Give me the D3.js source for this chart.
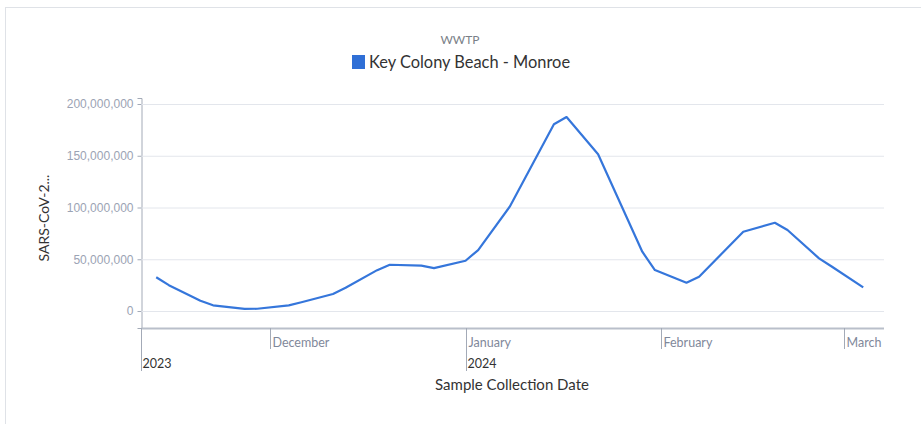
<!DOCTYPE html>
<html>
<head>
<meta charset="utf-8">
<script src="https://cdn.jsdelivr.net/npm/d3@7"></script>
<style>
  body { margin: 0; background: #fff; }
  svg { font-family: Lato, "Noto Sans", sans-serif; }
</style>
</head>
<body>
<svg width="921" height="424"></svg>
<script>
// sample dates and concentrations (copies / L)
var dates = ["2023-11-13", "2023-11-15", "2023-11-20", "2023-11-22", "2023-11-27", "2023-11-29",
  "2023-12-04", "2023-12-06", "2023-12-11", "2023-12-13", "2023-12-18", "2023-12-20",
  "2023-12-25", "2023-12-27", "2024-01-01", "2024-01-03", "2024-01-08", "2024-01-15",
  "2024-01-17", "2024-01-22", "2024-01-29", "2024-01-31", "2024-02-05", "2024-02-07",
  "2024-02-14", "2024-02-19", "2024-02-21", "2024-02-26", "2024-02-28", "2024-03-04"];
var values = [32.6e6, 25.0e6, 10.0e6, 5.5e6, 2.0e6, 2.2e6,
  5.5e6, 8.5e6, 16.5e6, 22.5e6, 39.5e6, 44.7e6,
  43.8e6, 41.5e6, 48.6e6, 58.9e6, 100.8e6, 180.4e6,
  187.4e6, 151.5e6, 57.3e6, 39.6e6, 27.3e6, 33.1e6,
  76.6e6, 85.3e6, 78.3e6, 50.9e6, 43.0e6, 22.9e6];
var seriesName = "Key Colony Beach - Monroe";
var yTicks = [0, 50e6, 100e6, 150e6, 200e6];
var monthTicks = ["2023-12-01", "2024-01-01", "2024-02-01", "2024-03-01"];
var yearTicks = ["2023-11-10", "2024-01-01"];
var yearLabels = ["2023", "2024"];

var parse = d3.timeParse("%Y-%m-%d");
var data = dates.map(function (d, i) { return { date: parse(d), value: values[i] }; });

var svg = d3.select("svg");
var plotLeft = 141.5, plotRight = 884, plotTop = 98, plotBottom = 328;

// card border
svg.append("rect")
  .attr("x", 5.5).attr("y", 7.5)
  .attr("width", 940).attr("height", 440)
  .attr("fill", "none")
  .attr("stroke", "#dfe2e7");

var x = d3.scaleTime()
  .domain([new Date(2023, 10, 10, 16), new Date(2024, 2, 7, 7)])
  .range([plotLeft, plotRight]);

var y = d3.scaleLinear()
  .domain([-16.4e6, 205.8e6])
  .range([plotBottom, plotTop]);

// gridlines + y axis
var yAxis = svg.append("g")
  .attr("transform", "translate(" + plotLeft + ",0)")
  .call(d3.axisLeft(y).tickValues(yTicks).tickSize(4).tickPadding(4)
    .tickFormat(d3.format(",")));
yAxis.select(".domain").attr("stroke", "#a3aab7");
yAxis.selectAll(".tick line").attr("stroke", "#a3aab7");
yAxis.selectAll(".tick text")
  .attr("fill", "#9ba3b4")
  .attr("font-size", 12);
yAxis.selectAll(".tick").append("line")
  .attr("x1", 0).attr("x2", plotRight - plotLeft)
  .attr("stroke", "#e3e6ec");

// x axis
var xg = svg.append("g");
xg.append("line")
  .attr("x1", plotLeft).attr("x2", plotRight)
  .attr("y1", plotBottom + 0.5).attr("y2", plotBottom + 0.5)
  .attr("stroke", "#b9bfca").attr("stroke-width", 2);

var mt = xg.selectAll(".month").data(monthTicks.map(parse)).enter().append("g")
  .attr("class", "month")
  .attr("transform", function (d) { return "translate(" + (Math.round(x(d)) + 0.5) + "," + plotBottom + ")"; });
mt.append("line").attr("y1", 0).attr("y2", 21).attr("stroke", "#a3aab7");
mt.append("text")
  .attr("x", 2).attr("y", 19)
  .attr("font-size", 12.5)
  .attr("fill", "#7f889a")
  .text(function (d) { return d3.timeFormat("%B")(d); });

var yt = xg.selectAll(".year").data(yearTicks.map(parse)).enter().append("g")
  .attr("class", "year")
  .attr("transform", function (d) { return "translate(" + Math.max(plotLeft, Math.round(x(d)) + 0.5) + "," + plotBottom + ")"; });
yt.append("line").attr("y1", 0).attr("y2", 43).attr("stroke", "#a3aab7");
yt.append("text")
  .attr("x", 1).attr("y", 40)
  .attr("font-size", 12.5)
  .attr("fill", "#333")
  .text(function (d, i) { return yearLabels[i]; });

// line
var line = d3.line()
  .x(function (d) { return x(d.date); })
  .y(function (d) { return y(d.value); });
svg.append("path")
  .datum(data)
  .attr("d", line)
  .attr("fill", "none")
  .attr("stroke", "#3576db")
  .attr("stroke-width", 2.2)
  .attr("stroke-linejoin", "round");

// axis titles
svg.append("text")
  .attr("x", 512).attr("y", 390)
  .attr("text-anchor", "middle")
  .attr("font-size", 15)
  .attr("fill", "#333")
  .text("Sample Collection Date");
svg.append("text")
  .attr("transform", "translate(49,218) rotate(-90)")
  .attr("text-anchor", "middle")
  .attr("font-size", 14)
  .attr("fill", "#333")
  .text("SARS-CoV-2...");

// title + legend
svg.append("text")
  .attr("x", 460).attr("y", 44)
  .attr("text-anchor", "middle")
  .attr("font-size", 12)
  .attr("fill", "#7a7f88")
  .text("WWTP");
var lg = svg.append("g");
lg.append("rect")
  .attr("x", 352).attr("y", 55)
  .attr("width", 13).attr("height", 14)
  .attr("fill", "#2f6fd6");
lg.append("text")
  .attr("x", 369).attr("y", 68)
  .attr("font-size", 16.4)
  .attr("fill", "#333")
  .text(seriesName);
</script>
</body>
</html>
